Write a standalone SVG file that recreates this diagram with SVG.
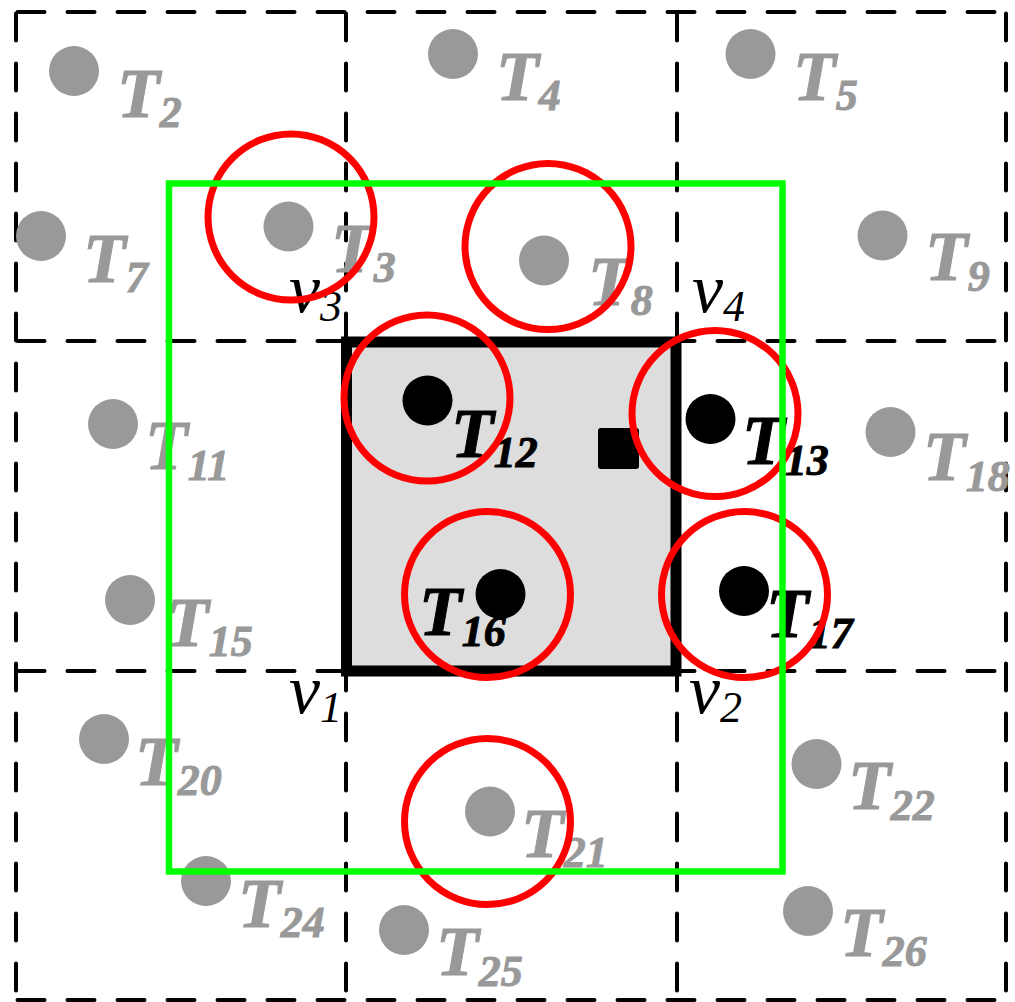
<svg xmlns="http://www.w3.org/2000/svg" width="1015" height="1002" viewBox="0 0 1015 1002">
<style>
.grid{stroke:#000;stroke-width:4;stroke-dasharray:27 23;stroke-linecap:round;fill:none}
.dot{fill:#999999}
.bdot{fill:#000}
.lbl{font-family:"Liberation Serif","Times New Roman",serif;font-weight:bold;font-style:italic;font-size:70px;fill:#999999;stroke:#999999;stroke-width:1}
.blbl{font-family:"Liberation Serif","Times New Roman",serif;font-weight:bold;font-style:italic;font-size:70px;fill:#000;stroke:#000;stroke-width:1}
.vlbl{font-family:"Liberation Serif","Times New Roman",serif;font-style:italic;font-size:70px;fill:#000}
.sub{font-size:44px}
.ring{fill:none;stroke:#ff0000;stroke-width:7}
</style>
<rect width="1015" height="1002" fill="#ffffff"/>
<g id="grid">
<line class="grid" x1="17.5" y1="12" x2="1006" y2="12"/>
<line class="grid" x1="17.5" y1="341" x2="1006" y2="341"/>
<line class="grid" x1="17.5" y1="671" x2="1006" y2="671"/>
<line class="grid" x1="17.5" y1="1000" x2="1006" y2="1000"/>
<line class="grid" x1="16" y1="13.5" x2="16" y2="1000"/>
<line class="grid" x1="346" y1="13.5" x2="346" y2="1000"/>
<line class="grid" x1="677" y1="13.5" x2="677" y2="1000"/>
<line class="grid" x1="1006" y1="13.5" x2="1006" y2="1000"/>
</g>
<g id="cell">
<rect x="346.5" y="342" width="329.5" height="329" fill="#dddddd" stroke="#000" stroke-width="11"/>
<rect x="598" y="428" width="41" height="41" rx="3" fill="#000"/>
</g>
<g id="v-labels">
<text class="vlbl" x="289" y="312">v<tspan class="sub" dy="9">3</tspan></text>
<text class="vlbl" x="692" y="312">v<tspan class="sub" dy="9">4</tspan></text>
<text class="vlbl" x="289" y="713">v<tspan class="sub" dy="9">1</tspan></text>
<text class="vlbl" x="689" y="713">v<tspan class="sub" dy="9">2</tspan></text>
</g>
<g id="T2"><circle class="dot" cx="74" cy="71" r="25"/><text class="lbl" x="117" y="117">T<tspan class="sub" dy="10">2</tspan></text></g>
<g id="T4"><circle class="dot" cx="453" cy="54" r="25"/><text class="lbl" x="496" y="100">T<tspan class="sub" dy="10">4</tspan></text></g>
<g id="T5"><circle class="dot" cx="750.5" cy="54" r="25"/><text class="lbl" x="793" y="100">T<tspan class="sub" dy="10">5</tspan></text></g>
<g id="T7"><circle class="dot" cx="41" cy="236" r="25"/><text class="lbl" x="83" y="282">T<tspan class="sub" dy="10">7</tspan></text></g>
<g id="T3"><circle class="dot" cx="288.5" cy="226.5" r="25"/><text class="lbl" x="331" y="272">T<tspan class="sub" dy="10">3</tspan></text></g>
<g id="T8"><circle class="dot" cx="544" cy="260.5" r="25"/><text class="lbl" x="588" y="305">T<tspan class="sub" dy="10">8</tspan></text></g>
<g id="T9"><circle class="dot" cx="882.5" cy="235.5" r="25"/><text class="lbl" x="925" y="280">T<tspan class="sub" dy="11">9</tspan></text></g>
<g id="T11"><circle class="dot" cx="113" cy="424" r="25"/><text class="lbl" x="145" y="469">T<tspan class="sub" dy="11">11</tspan></text></g>
<g id="T12"><circle class="bdot" cx="427.5" cy="400.5" r="25"/><text class="blbl" x="451" y="457">T<tspan class="sub" dy="10">12</tspan></text></g>
<g id="T13"><circle class="bdot" cx="710.5" cy="419" r="25"/><text class="blbl" x="742" y="464">T<tspan class="sub" dy="11">13</tspan></text></g>
<g id="T18"><circle class="dot" cx="890.5" cy="432" r="25"/><text class="lbl" x="923" y="480">T<tspan class="sub" dy="11">18</tspan></text></g>
<g id="T15"><circle class="dot" cx="130" cy="600" r="25"/><text class="lbl" x="166" y="646">T<tspan class="sub" dy="10">15</tspan></text></g>
<g id="T16"><circle class="bdot" cx="500.5" cy="594" r="25"/><text class="blbl" x="419" y="635">T<tspan class="sub" dy="11">16</tspan></text></g>
<g id="T17"><circle class="bdot" cx="744" cy="591" r="25"/><text class="blbl" x="766" y="637">T<tspan class="sub" dy="11">17</tspan></text></g>
<g id="T20"><circle class="dot" cx="104" cy="739" r="25"/><text class="lbl" x="135" y="785">T<tspan class="sub" dy="10">20</tspan></text></g>
<g id="T22"><circle class="dot" cx="816.5" cy="764" r="25"/><text class="lbl" x="848" y="809">T<tspan class="sub" dy="11">22</tspan></text></g>
<g id="T21"><circle class="dot" cx="490" cy="811.5" r="25"/><text class="lbl" x="521" y="857">T<tspan class="sub" dy="10">21</tspan></text></g>
<g id="T24"><circle class="dot" cx="206" cy="881" r="25"/><text class="lbl" x="238" y="927">T<tspan class="sub" dy="10">24</tspan></text></g>
<g id="T25"><circle class="dot" cx="404" cy="930" r="25"/><text class="lbl" x="436" y="975">T<tspan class="sub" dy="11">25</tspan></text></g>
<g id="T26"><circle class="dot" cx="808" cy="911" r="25"/><text class="lbl" x="840" y="956">T<tspan class="sub" dy="10">26</tspan></text></g>
<g id="ranges">
<circle class="ring" cx="291" cy="217" r="83"/>
<circle class="ring" cx="548" cy="246.5" r="83"/>
<circle class="ring" cx="427" cy="398" r="83"/>
<circle class="ring" cx="715" cy="413.5" r="83"/>
<circle class="ring" cx="487.5" cy="594.5" r="83"/>
<circle class="ring" cx="744.5" cy="594.5" r="83"/>
<circle class="ring" cx="487.5" cy="821.5" r="83"/>
</g>
<g id="region">
<rect x="169" y="183.5" width="613.5" height="688" fill="none" stroke="#00ff00" stroke-width="6.5"/>
</g>
</svg>
